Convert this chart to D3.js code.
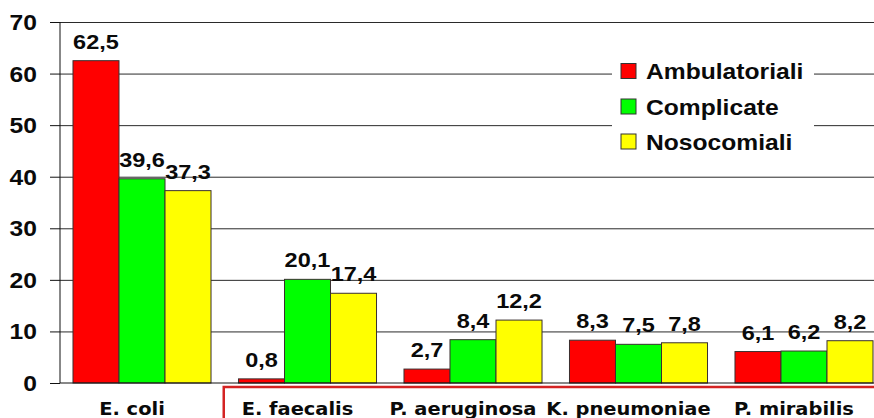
<!DOCTYPE html>
<html>
<head>
<meta charset="utf-8">
<script src="https://cdn.jsdelivr.net/npm/d3@7"></script>
<style>
  html, body { margin: 0; padding: 0; background: #fff; }
  svg { display: block; }
</style>
</head>
<body>
<svg id="chart" width="874" height="418"></svg>
<script>
// Species isolated, percentage per setting
const categories = ["E. coli", "E. faecalis", "P. aeruginosa", "K. pneumoniae", "P. mirabilis"];
const seriesNames = ["Ambulatoriali", "Complicate", "Nosocomiali"];
const ambulatoriali = [62.5, 0.8, 2.7, 8.3, 6.1];
const complicate = [39.6, 20.1, 8.4, 7.5, 6.2];
const nosocomiali = [37.3, 17.4, 12.2, 7.8, 8.2];
const yTicks = [0, 10, 20, 30, 40, 50, 60, 70];

const seriesValues = [ambulatoriali, complicate, nosocomiali];
const colors = ["#ff0000", "#00ff00", "#ffff00"];

const W = 874, H = 418;
const plotLeft = 60, plotRight = 886, plotTop = 22, plotBottom = 383;
const sx = 1.12; // wide lettering

const svg = d3.select("#chart");

const y = d3.scaleLinear().domain([0, 70]).range([plotBottom, plotTop]);
const x0 = d3.scaleBand().domain(categories).range([plotLeft, plotRight])
  .paddingInner(0.166).paddingOuter(0.0785);
const x1 = d3.scaleBand().domain(seriesNames).range([0, x0.bandwidth()]);

const fmt = v => d3.format(".1f")(v).replace(".", ",");

// gridlines
svg.append("g")
  .attr("transform", `translate(${plotLeft},0)`)
  .call(d3.axisLeft(y).tickValues(yTicks.slice(1)).tickSize(-(W - plotLeft)).tickFormat(""))
  .call(g => g.select(".domain").remove())
  .call(g => g.selectAll("line").attr("stroke", "#2a2a2a").attr("stroke-width", 1));

// y axis with outer ticks
svg.append("g")
  .attr("transform", `translate(${plotLeft},0)`)
  .call(d3.axisLeft(y).tickValues(yTicks).tickSize(10).tickFormat(""))
  .call(g => g.select(".domain").attr("d", `M0,${plotTop}V${plotBottom}`).attr("stroke", "#111"))
  .call(g => g.selectAll("line").attr("stroke", "#111"));

svg.append("g").selectAll("text")
  .data(yTicks)
  .join("text")
  .attr("transform", d => `translate(37,${y(d)}) scale(${sx},1)`)
  .attr("dy", "0.36em")
  .attr("text-anchor", "end")
  .attr("font-family", "'Liberation Sans', Arial, sans-serif")
  .attr("font-weight", "bold")
  .attr("font-size", 22)
  .attr("fill", "#0a0a0a")
  .text(d => d);

// legend backdrop
const legend = svg.append("g");
legend.append("rect")
  .attr("x", 612).attr("y", 54).attr("width", 202).attr("height", 104)
  .attr("fill", "#fff");

// bars
const groups = svg.append("g").selectAll("g")
  .data(categories)
  .join("g")
  .attr("transform", d => `translate(${x0(d)},0)`);

const cells = (c, i) => seriesNames.map((s, k) => ({ s, k, v: seriesValues[k][i] }));

groups.selectAll("rect")
  .data(cells)
  .join("rect")
  .attr("x", d => x1(d.s))
  .attr("y", d => y(d.v))
  .attr("width", x1.bandwidth())
  .attr("height", d => y(0) - y(d.v))
  .attr("fill", d => colors[d.k])
  .attr("stroke", "#3a3030")
  .attr("stroke-width", 1);

groups.selectAll("text")
  .data(cells)
  .join("text")
  .attr("transform", d => `translate(${x1(d.s) + x1.bandwidth() / 2},${y(d.v) - 12}) scale(${sx},1)`)
  .attr("text-anchor", "middle")
  .attr("font-family", "'Liberation Sans', Arial, sans-serif")
  .attr("font-weight", "bold")
  .attr("font-size", 21)
  .attr("fill", "#0a0a0a")
  .text(d => fmt(d.v));

// x axis baseline
svg.append("line")
  .attr("x1", plotLeft).attr("x2", W)
  .attr("y1", y(0)).attr("y2", y(0))
  .attr("stroke", "#111").attr("stroke-width", 1);

// frame around the non-E. coli species
const boxLeft = x0(categories[1]) - x0.step() * x0.paddingInner() / 2 - 1;
svg.append("rect")
  .attr("x", boxLeft).attr("y", 387)
  .attr("width", W - boxLeft + 20).attr("height", 60)
  .attr("fill", "none")
  .attr("stroke", "#d42323")
  .attr("stroke-width", 2.5);

// category labels
svg.append("g").selectAll("text")
  .data(categories)
  .join("text")
  .attr("transform", d => `translate(${x0(d) + x0.bandwidth() / 2 - 10},415) scale(1.08,1)`)
  .attr("text-anchor", "middle")
  .attr("font-family", "'DejaVu Sans', Verdana, sans-serif")
  .attr("font-weight", "bold")
  .attr("font-size", 18)
  .attr("fill", "#0a0a0a")
  .text(d => d);

// legend entries
const rowY = [71, 106.5, 141.5];
const items = legend.selectAll("g.item")
  .data(seriesNames)
  .join("g")
  .attr("class", "item")
  .attr("transform", (d, i) => `translate(621,${rowY[i]})`);

items.append("rect")
  .attr("x", 0).attr("y", -7.5)
  .attr("width", 15).attr("height", 15)
  .attr("fill", (d, i) => colors[i])
  .attr("stroke", "#333")
  .attr("stroke-width", 1);

items.append("text")
  .attr("transform", `translate(25,8) scale(${sx},1)`)
  .attr("font-family", "'Liberation Sans', Arial, sans-serif")
  .attr("font-weight", "bold")
  .attr("font-size", 22)
  .attr("fill", "#0a0a0a")
  .text(d => d);
</script>
</body>
</html>
